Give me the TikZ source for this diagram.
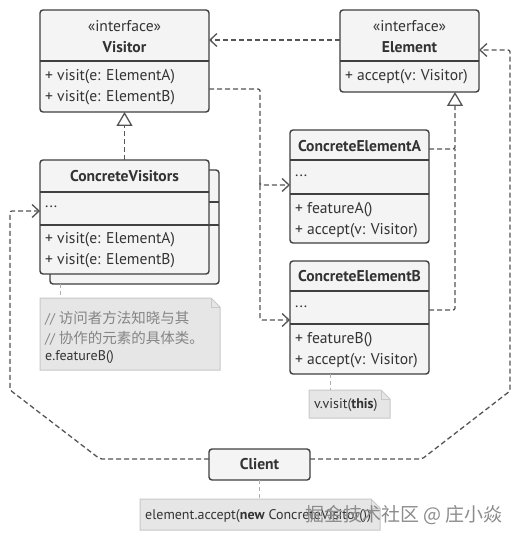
\documentclass[tikz,border=0pt]{standalone}
\usepackage{fontspec}
\setmainfont{PT Sans}
\newfontfamily\cjk{Noto Sans CJK SC}
\usetikzlibrary{arrows.meta,calc}
\definecolor{boxfill}{HTML}{F4F4F4}
\definecolor{boxline}{HTML}{404040}
\definecolor{txtc}{HTML}{333333}
\definecolor{notefill}{HTML}{E6E6E6}
\definecolor{noteline}{HTML}{C8C8C8}
\definecolor{notetxt}{HTML}{858585}
\definecolor{dashc}{HTML}{555555}
\definecolor{notelink}{HTML}{B0B0B0}
\begin{document}
\begin{tikzpicture}[x=1pt,y=-1pt,
 umlbox/.style={draw=boxline, fill=boxfill, line width=1.4pt, rounded corners=3pt, anchor=north west, inner sep=0pt, outer sep=0pt},
 divider/.style={draw=boxline, line width=1.4pt},
 txt/.style={text=txtc, font=\fontsize{15.6}{18}\selectfont, inner sep=0pt, anchor=west},
 ttl/.style={text=txtc, font=\fontsize{15.6}{18}\selectfont\bfseries, inner sep=0pt},
 ntxt/.style={text=notetxt, font=\fontsize{14}{16}\selectfont, inner sep=0pt, anchor=west},
 dep/.style={draw=dashc, line width=1.3pt, dash pattern=on 5pt off 3pt, rounded corners=2pt, -{Straight Barb[length=7pt,width=13pt,line width=1.3pt]}},
 plain/.style={draw=dashc, line width=1.3pt, dash pattern=on 5pt off 3pt, rounded corners=2pt},
 real/.style={draw=dashc, line width=1.3pt, dash pattern=on 5pt off 3pt, rounded corners=2pt, -{Triangle[open, fill=white, length=14pt, width=16pt, line width=1.3pt]}},
 nlink/.style={draw=notelink, line width=1pt, dash pattern=on 4pt off 3pt},
 notebox/.style={anchor=north west, inner sep=0pt, outer sep=0pt},
]
\useasboundingbox (0,0) rectangle (520,540);
\fill[white] (0,0) rectangle (520,540);

% Visitor
\node[umlbox, minimum width=169pt, minimum height=102pt] (visitor) at (40,10) {};
\draw[divider] (40,61) -- (209,61);
\node[txt, anchor=center] (vst) at (124.5,26) {«interface»};
\node[ttl] (vsn) at (124.5,47) {Visitor};
\node[txt] (vm1) at (45,77) {+ visit(e: ElementA)};
\node[txt] (vm2) at (45,98) {+ visit(e: ElementB)};

% Element
\node[umlbox, minimum width=139pt, minimum height=82pt] (element) at (340,10) {};
\draw[divider] (340,61) -- (479,61);
\node[txt, anchor=center] (est) at (409.5,26) {«interface»};
\node[ttl] (esn) at (409.5,47) {Element};
\node[txt] (em1) at (345,77) {+ accept(v: Visitor)};

% ConcreteVisitors (stacked)
\node[umlbox, minimum width=169pt, minimum height=114pt] (cvback) at (50,170) {};
\draw[divider] (209,202) -- (219,202);
\draw[divider] (209,225) -- (219,225);
\node[umlbox, minimum width=169pt, minimum height=114pt] (cv) at (40,160) {};
\draw[divider] (40,192) -- (209,192);
\draw[divider] (40,225) -- (209,225);
\node[ttl] (cvn) at (124.5,176) {ConcreteVisitors};
\node[txt] (cvf) at (45,207) {...};
\node[txt] (cvm1) at (45,240) {+ visit(e: ElementA)};
\node[txt] (cvm2) at (45,261) {+ visit(e: ElementB)};

% ConcreteElementA
\node[umlbox, minimum width=139pt, minimum height=113pt] (cea) at (290,130) {};
\draw[divider] (290,160) -- (429,160);
\draw[divider] (290,194) -- (429,194);
\node[ttl] (cean) at (359.5,146) {ConcreteElementA};
\node[txt] (ceaf) at (295,176) {...};
\node[txt] (ceam1) at (295,210) {+ featureA()};
\node[txt] (ceam2) at (295,231) {+ accept(v: Visitor)};

% ConcreteElementB
\node[umlbox, minimum width=139pt, minimum height=113pt] (ceb) at (290,261) {};
\draw[divider] (290,291) -- (429,291);
\draw[divider] (290,324) -- (429,324);
\node[ttl] (cebn) at (359.5,276) {ConcreteElementB};
\node[txt] (cebf) at (295,307) {...};
\node[txt] (cebm1) at (295,340) {+ featureB()};
\node[txt] (cebm2) at (295,361) {+ accept(v: Visitor)};

% Client
\node[umlbox, minimum width=101pt, minimum height=31pt] (client) at (209,449) {};
\node[ttl] (clientn) at (259.5,464.5) {Client};

% Notes
\node[notebox, minimum width=180pt, minimum height=72pt] (note1) at (40,298) {};
\node[notebox, minimum width=81pt, minimum height=28pt] (note2) at (309,390) {};
\node[notebox, minimum width=240pt, minimum height=31pt] (note3) at (140,499) {};
\foreach \n in {note1,note2,note3}{
  \draw[draw=noteline, fill=notefill, line width=1pt]
    (\n.north west) -- ($(\n.north east)+(-9,0)$) -- ($(\n.north east)+(0,9)$) -- (\n.south east) -- (\n.south west) -- cycle;
  \draw[draw=noteline, line width=1pt]
    ($(\n.north east)+(-9,0)$) -- ($(\n.north east)+(-9,9)$) -- ($(\n.north east)+(0,9)$);
}
\node[ntxt] (n1a) at (45,318) {// {\cjk\fontsize{14.5}{16}\selectfont 访问者方法知晓与其}};
\node[ntxt] (n1b) at (45,338) {// {\cjk\fontsize{14.5}{16}\selectfont 协作的元素的具体类。}};
\node[ntxt, text=txtc] (n1c) at (45,357) {e.featureB()};
\node[ntxt, text=txtc] (n2a) at (314,405) {v.visit(\textbf{this})};
\node[ntxt, text=txtc] (n3a) at (145,516) {element.accept(\textbf{new} ConcreteVisitor())};

% note links
\draw[nlink] (cvback.south -| 60,0) -- (note1.north -| 60,0);
\draw[nlink] (ceb.south -| 330,0) -- (note2.north -| 330,0);
\draw[nlink] (client.south) -- (note3.north -| client.south);

% connectors
\draw[dep] (element.west |- 0,40) -- (visitor.east |- 0,40);
\coordinate (vj) at (260,89);
\draw[plain] (visitor.east |- vj) -- (vj) -- (260,185);
\draw[dep] (260,180) -- (260,185) -- (cea.west |- 0,185);
\draw[dep] (260,185) -- (260,320) -- (ceb.west |- 0,320);
\draw[real] (cv.north) -- (visitor.south);
\coordinate (ej) at (455,149);
\draw[real] (cea.east |- ej) -- (ej) -- (element.south -| ej);
\draw[plain] (ceb.east |- 0,310) -- (455,310) -- (ej);
\draw[dep] (client.west |- 0,459) -- (100,459) -- (10,390) -- (10,211) -- (cv.west |- 0,211);
\draw[dep] (client.east |- 0,459) -- (422,459) -- (510,391) -- (510,50) -- (element.east |- 0,50);

% watermark
\node[text=black!45, font=\cjk\fontsize{19}{22}\selectfont, inner sep=0pt, anchor=west] (wm) at (305,515) {掘金技术社区 @ 庄小焱};
\end{tikzpicture}
\end{document}
